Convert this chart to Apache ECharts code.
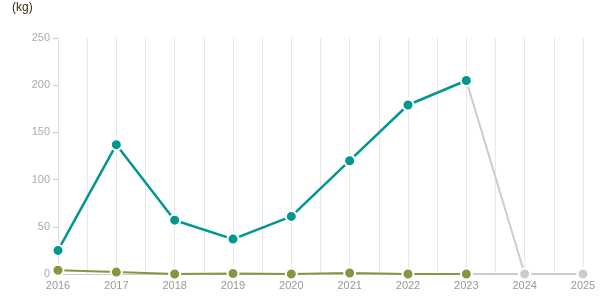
<!DOCTYPE html>
<html><head><meta charset="utf-8">
<script src="https://cdn.jsdelivr.net/npm/echarts@6/dist/echarts.min.js"></script>
<style>html,body{margin:0;padding:0;background:#fff}#c{width:615px;height:305px}</style>
</head><body><div id="c"></div>
<script>
const years = [2016,2017,2018,2019,2020,2021,2022,2023,2024,2025];
const tealValues = [25,137,57,37,61,120,179,205,null,null];
const oliveValues = [4,2,0,0.5,0,1,0,0,null,null];
const tealProjection = [null,null,null,null,null,null,null,205,0,0];
const oliveProjection = [null,null,null,null,null,null,null,0,0,0];
const yTicks = [0,50,100,150,200,250];

const pairs = arr => years.map((y,i)=>[y, arr[i]]);
const chart = echarts.init(document.getElementById('c'));
const sym = c => ({color:c, borderColor:'#fff', borderWidth:2});
chart.setOption({
  animation:false,
  grid:{left:58,right:32,top:38,bottom:31},
  graphic:[{type:'text',left:12,top:2,style:{text:'(kg)',fill:'#3a2a10',font:'12px Arial'}}],
  xAxis:{type:'value',min:2016,max:2025,interval:0.5,
    axisLine:{lineStyle:{color:'#ccc'}},
    axisTick:{show:false},
    axisLabel:{color:'#999',fontSize:11,margin:6,formatter:v=>Number.isInteger(v)?String(v):''},
    splitLine:{show:true,lineStyle:{color:'#e8e8e8'}}},
  yAxis:{type:'value',min:yTicks[0],max:yTicks[yTicks.length-1],interval:50,
    axisLine:{show:true,lineStyle:{color:'#e0e0e0'}},
    axisTick:{show:true,length:5,lineStyle:{color:'#ccc'}},
    axisLabel:{color:'#aaa',fontSize:11,margin:8},
    splitLine:{show:false}},
  series:[
    {type:'line',data:pairs(tealProjection),lineStyle:{color:'#cccccc',width:2},symbol:'circle',symbolSize:11,itemStyle:sym('#cccccc'),z:1},
    {type:'line',data:pairs(oliveProjection),lineStyle:{color:'#cccccc',width:2},symbol:'circle',symbolSize:11,itemStyle:sym('#cccccc'),z:1},
    {type:'line',data:pairs(oliveValues),lineStyle:{color:'#8a9440',width:2},symbol:'circle',symbolSize:11,itemStyle:sym('#8a9440'),z:3},
    {type:'line',data:pairs(tealValues),lineStyle:{color:'#00978f',width:2.5},symbol:'circle',symbolSize:11,itemStyle:sym('#00978f'),z:4}
  ]
});
</script></body></html>
